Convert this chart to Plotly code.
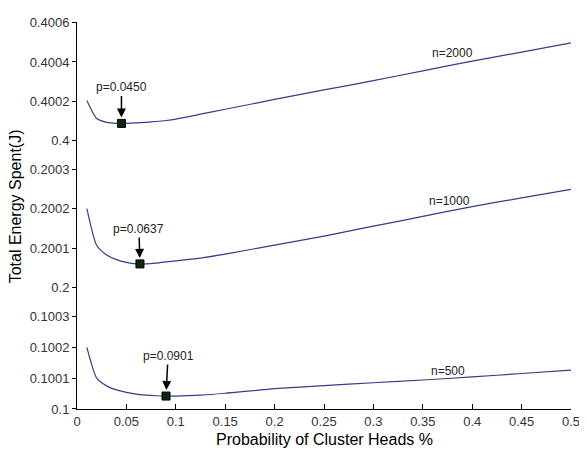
import plotly.graph_objects as go

# ---- data ----
p_vals = [0.01, 0.02, 0.03, 0.04, 0.05, 0.06, 0.07, 0.08, 0.09, 0.10, 0.125,
          0.15, 0.20, 0.25, 0.30, 0.35, 0.40, 0.45, 0.50]

energy_n2000 = [0.400205, 0.400113, 0.400094, 0.400089, 0.400089, 0.400091, 0.400094,
                0.400098, 0.400103, 0.400110, 0.400135, 0.400160, 0.400210, 0.400258,
                0.400305, 0.400355, 0.400404, 0.400450, 0.400497]
energy_n1000 = [0.200201, 0.200107, 0.200083, 0.200071, 0.200064, 0.200060, 0.200060,
                0.200062, 0.200065, 0.200068, 0.200075, 0.200085, 0.200108, 0.200131,
                0.200156, 0.200181, 0.200206, 0.200228, 0.200250]
energy_n500 = [0.100200, 0.100100, 0.100075, 0.100062, 0.100054, 0.100048, 0.100045,
               0.100043, 0.100042, 0.100042, 0.100045, 0.100051, 0.100066, 0.100076,
               0.100085, 0.100094, 0.100104, 0.100115, 0.100126]

opt_p = [0.0450, 0.0637, 0.0901]
opt_energy = [0.4000885, 0.2000600, 0.1000420]
opt_labels = ["p=0.0450", "p=0.0637", "p=0.0901"]
series_labels = ["n=2000", "n=1000", "n=500"]

x_tickvals = [0, 0.05, 0.1, 0.15, 0.2, 0.25, 0.3, 0.35, 0.4, 0.45, 0.5]
x_ticktext = ["0", "0.05", "0.1", "0.15", "0.2", "0.25", "0.3", "0.35", "0.4", "0.45", "0.5"]
top_ticks = [0.4, 0.4002, 0.4004, 0.4006]
top_text = ["0.4", "0.4002", "0.4004", "0.4006"]
mid_ticks = [0.2, 0.2001, 0.2002, 0.2003]
mid_text = ["0.2", "0.2001", "0.2002", "0.2003"]
bot_ticks = [0.1, 0.1001, 0.1002, 0.1003]
bot_text = ["0.1", "0.1001", "0.1002", "0.1003"]

LINE = "#3a3a8a"
FONT = "Liberation Sans, Arial, sans-serif"

fig = go.Figure()
series = [(energy_n2000, "y3"), (energy_n1000, "y2"), (energy_n500, "y")]
for (vals, ya) in series:
    fig.add_trace(go.Scatter(x=p_vals, y=vals, yaxis=ya, mode="lines",
                             line=dict(color=LINE, width=1.2, shape="spline", smoothing=0.6),
                             showlegend=False, hoverinfo="skip"))
for i, ya in enumerate(["y3", "y2", "y"]):
    fig.add_trace(go.Scatter(x=[opt_p[i]], y=[opt_energy[i]], yaxis=ya, mode="markers",
                             marker=dict(symbol="square", size=8, color="#0d260d",
                                         line=dict(color="black", width=1)),
                             showlegend=False, hoverinfo="skip"))

tickfont = dict(family=FONT, size=13, color="#333333")
yax_common = dict(showline=True, linecolor="black", linewidth=1, ticks="outside",
                  ticklen=4, tickcolor="black", showgrid=False, zeroline=False,
                  tickfont=tickfont, tickmode="array")

fig.update_layout(
    width=579, height=443,
    margin=dict(l=69, r=10, t=7, b=42),
    paper_bgcolor="white", plot_bgcolor="white",
    xaxis=dict(range=[0, 0.5], tickmode="array", tickvals=x_tickvals, ticktext=x_ticktext,
               showline=True, linecolor="black", linewidth=1, ticks="inside", ticklen=5,
               tickcolor="black", showgrid=False, zeroline=False, tickfont=tickfont,
               anchor="y"),
    yaxis=dict(domain=[0, 0.2766], range=[0.1, 0.100347], tickvals=bot_ticks,
               ticktext=bot_text, **yax_common),
    yaxis2=dict(domain=[0.2766, 0.6574], range=[0.19996325, 0.20033825], tickvals=mid_ticks,
                ticktext=mid_text, anchor="x", **yax_common),
    yaxis3=dict(domain=[0.6574, 1.0], range=[0.3999303, 0.4006025], tickvals=top_ticks,
                ticktext=top_text, anchor="x", **yax_common),
)

annots = []
shifts = [(0, -36), (-1, -35), (2, -40)]
for i, ya in enumerate(["y3", "y2", "y"]):
    annots.append(dict(x=opt_p[i], y=opt_energy[i], xref="x", yref=ya, text=opt_labels[i],
                       showarrow=True, arrowhead=2, arrowsize=1.2, arrowwidth=1.5,
                       arrowcolor="black", ax=shifts[i][0], ay=shifts[i][1], standoff=6,
                       font=dict(family=FONT, size=12, color="#222222")))
label_pos = [(0.38, 0.400443, "y3"), (0.377, 0.200220, "y2"), (0.375, 0.100124, "y")]
for i, (lx, ly, ya) in enumerate(label_pos):
    annots.append(dict(x=lx, y=ly, xref="x", yref=ya, text=series_labels[i], showarrow=False,
                       font=dict(family=FONT, size=12, color="#222222")))
annots.append(dict(x=-0.124, y=0.523, xref="paper", yref="paper", text="Total Energy Spent(J)",
                   textangle=-90, showarrow=False, xanchor="center", yanchor="middle",
                   font=dict(family=FONT, size=16, color="black")))
annots.append(dict(x=0.5, y=-0.079, xref="paper", yref="paper",
                   text="Probability of Cluster Heads %", showarrow=False,
                   xanchor="center", yanchor="middle",
                   font=dict(family=FONT, size=16, color="black")))
fig.update_layout(annotations=annots)

fig.write_html("out.html")
